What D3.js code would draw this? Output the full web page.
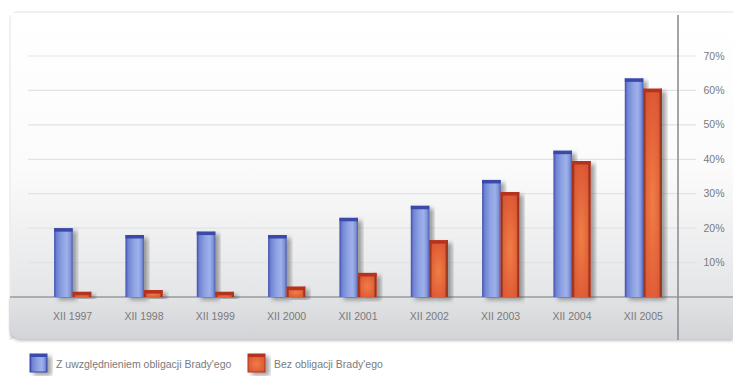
<!DOCTYPE html>
<html>
<head>
<meta charset="utf-8">
<script src="https://cdn.jsdelivr.net/npm/d3@7/dist/d3.min.js"></script>
<style>
  html, body { margin: 0; padding: 0; background: #fff; }
  svg { display: block; }
  text { font-family: "Liberation Sans Narrow", "Liberation Sans", Arial, sans-serif; fill: #7a7a7a; }
</style>
</head>
<body>
<svg id="chart" width="733" height="383"></svg>
<script>
// Categories (end of year) and the two series, in percent
const categories = ["XII 1997", "XII 1998", "XII 1999", "XII 2000", "XII 2001", "XII 2002", "XII 2003", "XII 2004", "XII 2005"];
const withBrady = [20, 18, 19, 18, 23, 26.5, 34, 42.5, 63.5];
const withoutBrady = [1.5, 2, 1.5, 3, 7, 16.5, 30.5, 39.5, 60.5];
const seriesNames = ["Z uwzględnieniem obligacji Brady'ego", "Bez obligacji Brady'ego"];
const yTicks = [10, 20, 30, 40, 50, 60, 70];

const svg = d3.select("#chart");
const defs = svg.append("defs");

// Plot background: white fading to light grey toward the baseline
const bg = defs.append("linearGradient").attr("id", "bgGrad").attr("x1", 0).attr("y1", 0).attr("x2", 0).attr("y2", 1);
bg.append("stop").attr("offset", "0%").attr("stop-color", "#ffffff");
bg.append("stop").attr("offset", "55%").attr("stop-color", "#fbfbfb");
bg.append("stop").attr("offset", "100%").attr("stop-color", "#e4e5e7");

const band = defs.append("linearGradient").attr("id", "bandGrad").attr("x1", 0).attr("y1", 0).attr("x2", 0).attr("y2", 1);
band.append("stop").attr("offset", "0%").attr("stop-color", "#e2e3e5");
band.append("stop").attr("offset", "100%").attr("stop-color", "#d2d4d7");

// Bar fills: horizontal shading to give the columns a rounded look
function barGrad(id, stops) {
  const g = defs.append("linearGradient").attr("id", id).attr("x1", 0).attr("y1", 0).attr("x2", 1).attr("y2", 0);
  stops.forEach(([o, c]) => g.append("stop").attr("offset", o).attr("stop-color", c));
}
barGrad("blueGrad", [["0%", "#3d4cae"], ["14%", "#6f83d3"], ["45%", "#8ea3e3"], ["70%", "#9fb1ea"], ["88%", "#7e93d8"], ["100%", "#4a5bb8"]]);
const redG = defs.append("radialGradient").attr("id", "redGrad").attr("cx", "50%").attr("cy", "55%").attr("r", "75%");
redG.append("stop").attr("offset", "0%").attr("stop-color", "#f07d45");
redG.append("stop").attr("offset", "100%").attr("stop-color", "#d64a2e");
barGrad("redEdge", [["0%", "#b8321f"], ["15%", "rgba(0,0,0,0)"], ["85%", "rgba(0,0,0,0)"], ["100%", "#b3301e"]]);

const shadow = defs.append("filter").attr("id", "shadow").attr("x", "-30%").attr("y", "-10%").attr("width", "160%").attr("height", "130%");
shadow.append("feDropShadow").attr("dx", 4).attr("dy", 3).attr("stdDeviation", 2).attr("flood-color", "#555").attr("flood-opacity", 0.55);
const soft = defs.append("filter").attr("id", "soft").attr("x", "-5%").attr("y", "-20%").attr("width", "110%").attr("height", "150%");
soft.append("feDropShadow").attr("dx", 0).attr("dy", 2).attr("stdDeviation", 1.5).attr("flood-color", "#999").attr("flood-opacity", 0.6);

// Scales
const x = d3.scaleBand().domain(categories).range([37, 679]).paddingInner(0.48).paddingOuter(0.24);
const xs = d3.scaleBand().domain([0, 1]).range([0, x.bandwidth()]);
const y = d3.scaleLinear().domain([0, 70]).range([297, 56]);

// Frame
svg.append("path")
  .attr("d", "M10,340 L10,20 Q10,12 18,12 L733,12")
  .attr("fill", "url(#bgGrad)").attr("stroke", "#ececec").attr("stroke-width", 1.5);
svg.append("rect").attr("x", 11).attr("y", 13).attr("width", 722).attr("height", 284).attr("fill", "url(#bgGrad)");

// Category label band beneath the baseline
svg.append("path")
  .attr("d", "M10,297 L733,297 L733,339 L22,339 Q10,339 10,327 Z")
  .attr("fill", "url(#bandGrad)").attr("filter", "url(#soft)");

// Gridlines
svg.append("g").selectAll("line").data(yTicks).join("line")
  .attr("x1", 28).attr("x2", 696)
  .attr("y1", d => y(d)).attr("y2", d => y(d))
  .attr("stroke", "#e3e3e3").attr("stroke-width", 1.2);

// Baseline
svg.append("line").attr("x1", 10).attr("x2", 733).attr("y1", y(0)).attr("y2", y(0))
  .attr("stroke", "#9a9b9e").attr("stroke-width", 1.5);

// Bars
const groups = svg.append("g").selectAll("g").data(categories).join("g")
  .attr("transform", d => `translate(${x(d)},0)`);

function drawBars(vals, idx, fill, cap, edge) {
  const g = groups.append("g").attr("filter", "url(#shadow)");
  g.append("rect")
    .attr("x", xs(idx)).attr("width", xs.bandwidth())
    .attr("y", (d, i) => y(vals[i])).attr("height", (d, i) => y(0) - y(vals[i]))
    .attr("fill", fill);
  if (edge) {
    g.append("rect")
      .attr("x", xs(idx)).attr("width", xs.bandwidth())
      .attr("y", (d, i) => y(vals[i])).attr("height", (d, i) => y(0) - y(vals[i]))
      .attr("fill", edge);
  }
  g.append("rect")
    .attr("x", xs(idx)).attr("width", xs.bandwidth())
    .attr("y", (d, i) => y(vals[i])).attr("height", (d, i) => Math.min(3.5, y(0) - y(vals[i])))
    .attr("fill", cap);
}
drawBars(withBrady, 0, "url(#blueGrad)", "#3b48a8", null);
drawBars(withoutBrady, 1, "url(#redGrad)", "#b5321f", "url(#redEdge)");

// Vertical value axis line
svg.append("line").attr("x1", 678).attr("x2", 678).attr("y1", 15).attr("y2", 340)
  .attr("stroke", "#8e8f93").attr("stroke-width", 1.6);

// Value labels
svg.append("g").selectAll("text").data(yTicks).join("text")
  .attr("x", 714).attr("y", d => y(d) + 3.5)
  .attr("text-anchor", "middle").attr("font-size", 10.5)
  .text(d => d + "%");

// Category labels
svg.append("g").selectAll("text").data(categories).join("text")
  .attr("x", d => x(d) + x.bandwidth() / 2).attr("y", 320)
  .attr("text-anchor", "middle").attr("font-size", 10.5)
  .text(d => d);

// Legend
const legend = svg.append("g");
const legendItems = [
  { name: seriesNames[0], x: 30, fill: "url(#blueGrad)", cap: "#3b48a8" },
  { name: seriesNames[1], x: 248, fill: "url(#redGrad)", cap: "#b5321f" }
];
legendItems.forEach(it => {
  const g = legend.append("g").attr("filter", "url(#shadow)");
  g.append("rect").attr("x", it.x).attr("y", 354).attr("width", 17).attr("height", 18).attr("fill", it.fill)
    .attr("stroke", it.cap).attr("stroke-width", 1);
  g.append("rect").attr("x", it.x).attr("y", 354).attr("width", 17).attr("height", 3).attr("fill", it.cap);
  legend.append("text").attr("x", it.x + 26).attr("y", 368).attr("font-size", 10.5).text(it.name);
});
</script>
</body>
</html>
